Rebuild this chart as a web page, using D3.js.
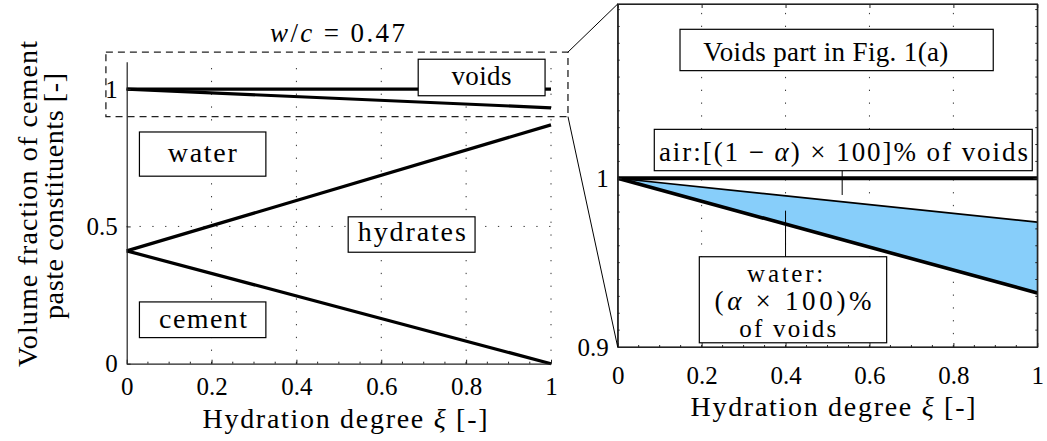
<!DOCTYPE html>
<html>
<head>
<meta charset="utf-8">
<script src="https://cdn.jsdelivr.net/npm/d3@7"></script>
<style>
  body { margin: 0; background: #fff; }
  svg text { font-family: "Liberation Serif", "Times New Roman", serif; fill: #000; }
</style>
</head>
<body>
<svg id="viz" width="1047" height="441"></svg>
<script>
// hydration degree (x) and the boundaries of the constituents (volume fraction)
var xi = [0, 1];
var cementTop = [0.411, 0];
var hydratesTop = [0.411, 0.870];
var waterTop = [1, 0.932];      // lower edge of the voids
var voidsTop = [1, 1];
var airWaterSplit = [1, 0.974]; // inside the voids (right panel)

var xTicks = [0, 0.2, 0.4, 0.6, 0.8, 1];
var yTicksLeft = [0, 0.5, 1];
var yTicksRight = [0.9, 1];

var svg = d3.select("#viz");

var xL = d3.scaleLinear().domain([0, 1]).range([126.7, 551]),
    yL = d3.scaleLinear().domain([0, 1.1]).range([363.7, 61.7]);
var xR = d3.scaleLinear().domain([0, 1]).range([617.7, 1037.3]),
    yR = d3.scaleLinear().domain([0.9, 1.1033]).range([347, 4]);

function pts(ys) {
    return xi.map(function(x, i) { return [x, ys[i]]; });
}

// ---------------- left panel ----------------
var gL = svg.append("g");

// dotted grid
gL.selectAll(".vgrid").data(xTicks.slice(1)).enter().append("line")
    .attr("x1", function(d) { return xL(d); }).attr("x2", function(d) { return xL(d); })
    .attr("y1", yL(0)).attr("y2", yL(1.1))
    .attr("stroke", "#333").attr("stroke-width", 1).attr("stroke-dasharray", "1.3,11.5");
gL.selectAll(".hgrid").data([0.5, 1]).enter().append("line")
    .attr("x1", xL(0)).attr("x2", xL(1))
    .attr("y1", function(d) { return yL(d); }).attr("y2", function(d) { return yL(d); })
    .attr("stroke", "#333").attr("stroke-width", 1).attr("stroke-dasharray", "1.3,11.5");

var lineL = d3.line().x(function(d) { return xL(d[0]); }).y(function(d) { return yL(d[1]); });
[cementTop, hydratesTop, waterTop, voidsTop].forEach(function(s) {
    gL.append("path").datum(pts(s)).attr("d", lineL)
        .attr("fill", "none").attr("stroke", "#000").attr("stroke-width", 3.2);
});

// axes
gL.append("g").attr("transform", "translate(0," + yL(0) + ")")
    .call(d3.axisBottom(xL).tickValues(xTicks).tickFormat(function(d) { return d; })
        .tickSizeInner(-4).tickSizeOuter(0).tickPadding(14));
gL.append("g").attr("transform", "translate(" + xL(0) + ",0)")
    .call(d3.axisLeft(yL).tickValues(yTicksLeft).tickFormat(function(d) { return d; })
        .tickSizeInner(-4).tickSizeOuter(0).tickPadding(9));
// minor ticks
gL.selectAll(".minx").data(d3.range(0.05, 1, 0.05)).enter().append("line")
    .attr("x1", function(d) { return xL(d); }).attr("x2", function(d) { return xL(d); })
    .attr("y1", yL(0)).attr("y2", yL(0) - 2).attr("stroke", "#222");

// dashed zoom box
var zb = { x0: -0.049, x1: 1.040, y0: 0.9, y1: 1.135 };
gL.append("rect")
    .attr("x", xL(zb.x0)).attr("y", yL(zb.y1))
    .attr("width", xL(zb.x1) - xL(zb.x0)).attr("height", yL(zb.y0) - yL(zb.y1))
    .attr("fill", "none").attr("stroke", "#222").attr("stroke-width", 1.3)
    .attr("stroke-dasharray", "7,5");

// labels in boxes
function box(g, sx, sy, b) {
    g.append("rect")
        .attr("x", sx(b.x0)).attr("y", sy(b.y1))
        .attr("width", sx(b.x1) - sx(b.x0)).attr("height", sy(b.y0) - sy(b.y1))
        .attr("fill", "#fff").attr("stroke", "#000").attr("stroke-width", 1.2);
}
function label(g, sx, sy, t) {
    var el = g.append("text")
        .attr("x", sx(t.x)).attr("y", sy(t.y))
        .attr("text-anchor", "middle")
        .style("font-size", t.size + "px");
    if (t.len) el.attr("textLength", t.len).attr("lengthAdjust", "spacing");
    return el;
}

var leftBoxes = [
    { x0: 0.687, x1: 0.986, y0: 0.976, y1: 1.109, text: "voids", tx: 0.836, ty: 1.015, size: 27, len: 60 },
    { x0: 0.030, x1: 0.328, y0: 0.683, y1: 0.844, text: "water", tx: 0.178, ty: 0.735, size: 28, len: 69 },
    { x0: 0.522, x1: 0.821, y0: 0.406, y1: 0.535, text: "hydrates", tx: 0.672, ty: 0.446, size: 28, len: 108 },
    { x0: 0.030, x1: 0.328, y0: 0.095, y1: 0.225, text: "cement", tx: 0.180, ty: 0.130, size: 28, len: 88 }
];
leftBoxes.forEach(function(b) {
    box(gL, xL, yL, b);
    label(gL, xL, yL, { x: b.tx, y: b.ty, size: b.size, len: b.len }).text(b.text);
});

// title
var title = svg.append("text").attr("x", 337.5).attr("y", 41.7)
    .attr("text-anchor", "middle").style("font-size", "27px")
    .attr("textLength", 135).attr("lengthAdjust", "spacing");
title.append("tspan").style("font-style", "italic").text("w");
title.append("tspan").text("/");
title.append("tspan").style("font-style", "italic").text("c");
title.append("tspan").text(" = 0.47");

// y label
svg.append("text").attr("transform", "translate(37,204) rotate(-90)")
    .attr("text-anchor", "middle").style("font-size", "28px")
    .attr("textLength", 326).attr("lengthAdjust", "spacing")
    .text("Volume fraction of cement");
svg.append("text").attr("transform", "translate(63,196) rotate(-90)")
    .attr("text-anchor", "middle").style("font-size", "28px")
    .attr("textLength", 246).attr("lengthAdjust", "spacing")
    .text("paste constituents [-]");

function xlabel(cx, cy) {
    var t = svg.append("text").attr("x", cx).attr("y", cy)
        .attr("text-anchor", "middle").style("font-size", "28px")
        .attr("textLength", 285).attr("lengthAdjust", "spacing");
    t.append("tspan").text("Hydration degree ");
    t.append("tspan").style("font-style", "italic").text("ξ");
    t.append("tspan").text(" [-]");
}
xlabel(345, 428);

// ---------------- right panel ----------------
var gR = svg.append("g");

gR.selectAll(".vgrid").data(xTicks.slice(1, -1)).enter().append("line")
    .attr("x1", function(d) { return xR(d); }).attr("x2", function(d) { return xR(d); })
    .attr("y1", yR(0.9)).attr("y2", yR(1.1033))
    .attr("stroke", "#333").attr("stroke-width", 1).attr("stroke-dasharray", "1.3,11.5");

var areaR = d3.area()
    .x(function(d) { return xR(d[0]); })
    .y0(function(d) { return yR(d[2]); })
    .y1(function(d) { return yR(d[1]); });
gR.append("path")
    .datum(xi.map(function(x, i) { return [x, airWaterSplit[i], waterTop[i]]; }))
    .attr("d", areaR).attr("fill", "#87cefa");

var lineR = d3.line().x(function(d) { return xR(d[0]); }).y(function(d) { return yR(d[1]); });
gR.append("path").datum(pts(airWaterSplit)).attr("d", lineR)
    .attr("fill", "none").attr("stroke", "#000").attr("stroke-width", 1.6);
gR.append("path").datum(pts(waterTop)).attr("d", lineR)
    .attr("fill", "none").attr("stroke", "#000").attr("stroke-width", 3.6);
gR.append("path").datum(pts(voidsTop)).attr("d", lineR)
    .attr("fill", "none").attr("stroke", "#000").attr("stroke-width", 4);

// frame and axes
gR.append("rect").attr("x", xR(0)).attr("y", yR(1.1033))
    .attr("width", xR(1) - xR(0)).attr("height", yR(0.9) - yR(1.1033))
    .attr("fill", "none").attr("stroke", "#222").attr("stroke-width", 1.2);
gR.append("g").attr("transform", "translate(0," + yR(0.9) + ")")
    .call(d3.axisBottom(xR).tickValues(xTicks).tickFormat(function(d) { return d; })
        .tickSizeInner(-4).tickSizeOuter(0).tickPadding(19));
gR.append("g").attr("transform", "translate(" + xR(0) + ",0)")
    .call(d3.axisLeft(yR).tickValues(yTicksRight).tickFormat(function(d) { return d; })
        .tickSizeInner(-4).tickSizeOuter(0).tickPadding(9));
gR.append("g").attr("transform", "translate(0," + yR(1.1033) + ")")
    .call(d3.axisTop(xR).tickValues(xTicks).tickFormat("").tickSizeInner(-4).tickSizeOuter(0));
gR.append("g").attr("transform", "translate(" + xR(1) + ",0)")
    .call(d3.axisRight(yR).tickValues(yTicksRight).tickFormat("").tickSizeInner(-4).tickSizeOuter(0));
gR.selectAll(".minx").data(d3.range(0.05, 1, 0.05)).enter().append("line")
    .attr("x1", function(d) { return xR(d); }).attr("x2", function(d) { return xR(d); })
    .attr("y1", yR(0.9)).attr("y2", yR(0.9) - 2).attr("stroke", "#222");
gR.selectAll(".miny").data(d3.range(0.91, 1.1, 0.01)).enter().append("line")
    .attr("x1", xR(1)).attr("x2", xR(1) - 2)
    .attr("y1", function(d) { return yR(d); }).attr("y2", function(d) { return yR(d); })
    .attr("stroke", "#222");
gR.selectAll(".minyl").data(d3.range(0.91, 1.1, 0.01)).enter().append("line")
    .attr("x1", xR(0)).attr("x2", xR(0) + 2)
    .attr("y1", function(d) { return yR(d); }).attr("y2", function(d) { return yR(d); })
    .attr("stroke", "#222");

// pointers
gR.append("line").attr("x1", xR(0.535)).attr("x2", xR(0.535))
    .attr("y1", yR(1.0045)).attr("y2", yR(0.9901)).attr("stroke", "#000").attr("stroke-width", 1);
gR.append("line").attr("x1", xR(0.4)).attr("x2", xR(0.4))
    .attr("y1", yR(0.9808)).attr("y2", yR(0.9535)).attr("stroke", "#000").attr("stroke-width", 1);

// boxes
box(gR, xR, yR, { x0: 0.1485, x1: 0.895, y0: 1.0638, y1: 1.0883 });
label(gR, xR, yR, { x: 0.496, y: 1.0695, size: 27, len: 245 }).text("Voids part in Fig. 1(a)");

box(gR, xR, yR, { x0: 0.0872, x1: 0.988, y0: 1.0045, y1: 1.0290 });
var air = label(gR, xR, yR, { x: 0.538, y: 1.0104, size: 27, len: 369 });
air.append("tspan").text("air:[(1 \u2212 ");
air.append("tspan").style("font-style", "italic").text("\u03b1");
air.append("tspan").text(") \u00d7 100]% of voids");

box(gR, xR, yR, { x0: 0.1945, x1: 0.641, y0: 0.9025, y1: 0.9535 });
label(gR, xR, yR, { x: 0.399, y: 0.9387, size: 25, len: 76 }).text("water:");
var wl = label(gR, xR, yR, { x: 0.418, y: 0.9219, size: 27, len: 157 });
wl.append("tspan").text("(");
wl.append("tspan").style("font-style", "italic").text("\u03b1");
wl.append("tspan").text(" \u00d7 100)%");
label(gR, xR, yR, { x: 0.405, y: 0.9061, size: 25, len: 97 }).text("of voids");

// zoom connectors
svg.append("line").attr("x1", xL(zb.x1)).attr("y1", yL(zb.y1))
    .attr("x2", xR(0)).attr("y2", yR(1.1033)).attr("stroke", "#000").attr("stroke-width", 1);
svg.append("line").attr("x1", xL(zb.x1)).attr("y1", yL(zb.y0))
    .attr("x2", xR(0)).attr("y2", yR(0.9)).attr("stroke", "#000").attr("stroke-width", 1);

xlabel(833, 416);

// axis styling
svg.selectAll(".tick text").style("font-size", "25px").style("font-family", "Liberation Serif");
svg.selectAll(".domain").attr("stroke", "#222").attr("stroke-width", 1.2);
svg.selectAll(".tick line").attr("stroke", "#222");
</script>
</body>
</html>
